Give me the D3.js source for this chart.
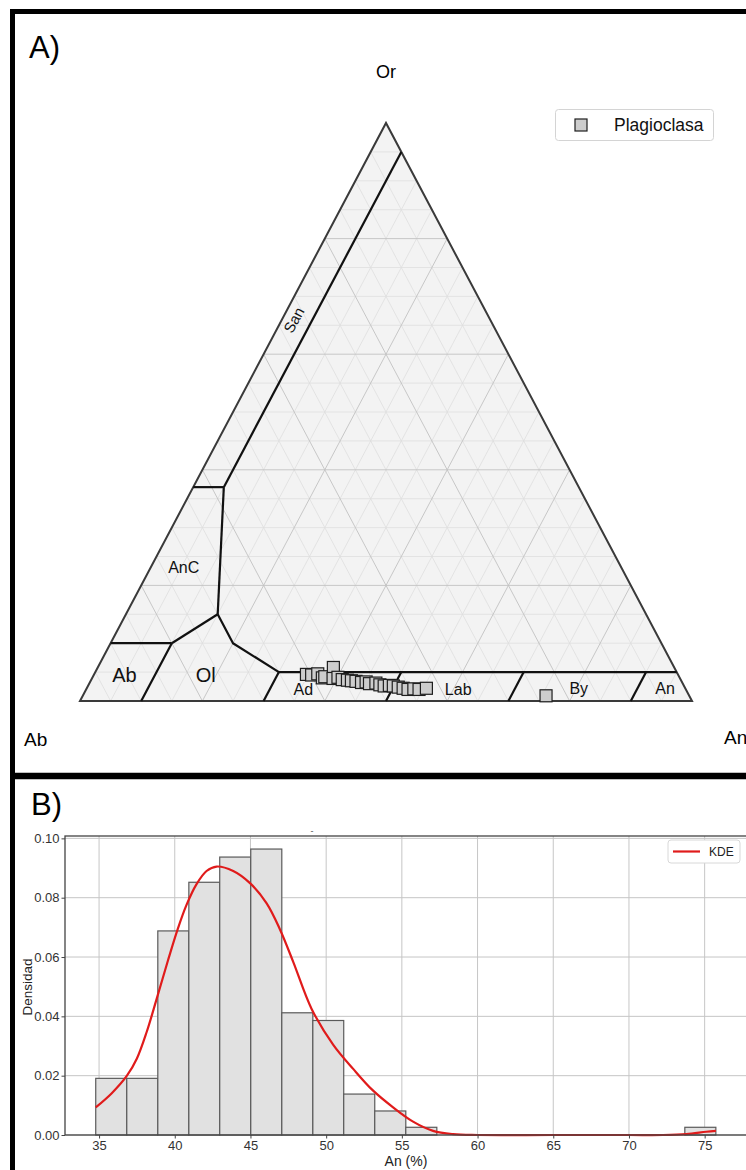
<!DOCTYPE html>
<html><head><meta charset="utf-8">
<script src="https://cdn.jsdelivr.net/npm/d3@7"></script>
<style>
html,body{margin:0;padding:0;background:#fff;overflow:hidden}
svg{display:block;font-family:"Liberation Sans",Arial,Helvetica,sans-serif}
</style></head><body>
<svg id="c" width="746" height="1170"></svg>
<script>
// ================= DATA =================
// Panel A: plagioclase analyses (An %, Or %)
const plagAn = [34.7, 35.6, 36.5, 37.6, 37.9, 38.5, 39.4, 40.1, 41.0, 41.9, 42.6, 43.4, 44.4, 45.1, 45.8, 46.8, 47.6, 48.4, 49.2, 49.9, 50.8, 51.7, 52.6, 53.5, 54.4, 55.5, 75.7];
const plagOr = [4.6, 4.5, 4.7, 4.0, 4.2, 5.8, 3.9, 4.1, 3.7, 3.6, 3.5, 3.4, 3.2, 3.3, 3.0, 3.1, 2.8, 2.6, 2.7, 2.6, 2.4, 2.2, 2.0, 2.1, 2.0, 2.2, 0.9];
// field boundaries as [An, Or] polylines
const boundaries = [
  [[5, 37], [5, 95]],
  [[0, 37], [5, 37]],
  [[5, 37], [15, 15]],
  [[0, 10], [10, 10]],
  [[10, 0], [10, 10]],
  [[10, 10], [15, 15]],
  [[15, 15], [20, 10], [30, 5]],
  [[30, 5], [95, 5]],
  [[30, 0], [30, 5]],
  [[50, 0], [50, 5]],
  [[70, 0], [70, 5]],
  [[90, 0], [90, 5]]
];
const fieldNames = ["San", "AnC", "Ab", "Ol", "Ad", "Lab", "By", "An"];
const fieldAn    = [2.0, 5.9, 5.6, 18.9, 36.0, 61.3, 80.9, 95.0];
const fieldOr    = [65.9, 22.1, 3.3, 3.3, 1.0, 1.0, 1.2, 1.2];
const gridLevels = [5,10,15,20,25,30,35,40,45,50,55,60,65,70,75,80,85,90,95];
const majorLevels = [20, 40, 60, 80];

// Panel B: histogram of An (%) and KDE
const binEdges = [34.78, 36.83, 38.88, 40.93, 42.97, 45.02, 47.07, 49.12, 51.16, 53.21, 55.26, 57.31, 59.35, 61.40, 63.45, 65.50, 67.54, 69.59, 71.64, 73.69, 75.74];
const binDensity = [0.0191, 0.0191, 0.0688, 0.0852, 0.0937, 0.0964, 0.0412, 0.0386, 0.0138, 0.0081, 0.0026, 0, 0, 0, 0, 0, 0, 0, 0, 0.0026];
const kdeAn   = [34.78, 35.84, 36.83, 37.5, 38.15, 38.8, 39.56, 40.2, 40.77, 41.43, 42.1, 42.76, 43.86, 44.97, 46.07, 46.95, 47.83, 49.04, 50.47, 51.8, 53.05, 54.4, 55.74, 57.06, 58.38, 60, 65, 70, 72.25, 73.79, 75.1, 75.74];
const kdeDens = [0.0093, 0.0141, 0.0199, 0.0258, 0.0348, 0.0458, 0.0590, 0.0695, 0.0775, 0.0845, 0.0890, 0.0905, 0.0890, 0.0849, 0.0781, 0.0693, 0.0583, 0.0425, 0.0304, 0.0222, 0.0152, 0.0094, 0.0045, 0.0014, 0.0003, 0, 0, 0, 0, 0.0003, 0.0011, 0.0014];
const xTicks = [35, 40, 45, 50, 55, 60, 65, 70, 75];
const yTicks = [0, 0.02, 0.04, 0.06, 0.08, 0.10];

// ================= DRAW =================
const svg = d3.select("#c");
const FONT = "'Liberation Sans', Arial, Helvetica, sans-serif";

// ---------- Panel A ----------
const gA = svg.append("g");
const tx = d3.scaleLinear().domain([0, 100]).range([80, 692]);
const ty = d3.scaleLinear().domain([0, 100]).range([701, 123]);
const P = (an, or) => [tx(an + or / 2), ty(or)];
const line = d3.line();

gA.append("path")
  .attr("d", line([P(0,0), P(100,0), P(0,100)]) + "Z")
  .attr("fill", "#f3f3f3").attr("stroke", "none");

function gridSeg(v) {
  return [
    [P(0, v), P(100 - v, v)],
    [P(v, 0), P(v, 100 - v)],
    [P(100 - v, 0), P(0, 100 - v)]
  ];
}
const minor = gridLevels.filter(v => !majorLevels.includes(v));
minor.forEach(v => gridSeg(v).forEach(s => {
  gA.append("path").attr("d", line(s)).attr("stroke", "#dedede").attr("stroke-width", 0.8).attr("fill", "none");
}));
majorLevels.forEach(v => gridSeg(v).forEach(s => {
  gA.append("path").attr("d", line(s)).attr("stroke", "#c2c2c2").attr("stroke-width", 0.9).attr("fill", "none");
}));

gA.append("path")
  .attr("d", line([P(0,0), P(100,0), P(0,100)]) + "Z")
  .attr("fill", "none").attr("stroke", "#3a3a3a").attr("stroke-width", 2).attr("stroke-linejoin", "miter");

boundaries.forEach(b => {
  gA.append("path").attr("d", line(b.map(d => P(d[0], d[1]))))
    .attr("fill", "none").attr("stroke", "#111").attr("stroke-width", 2.2).attr("stroke-linejoin", "round");
});

const fieldSize = {San: 15, AnC: 16, Ab: 20, Ol: 20, Ad: 16, Lab: 16, By: 16, An: 16};
fieldNames.forEach((n, i) => {
  const p = P(fieldAn[i], fieldOr[i]);
  const t = gA.append("text").attr("text-anchor", "middle")
    .attr("font-size", fieldSize[n]).attr("fill", "#111").text(n);
  if (n === "San") t.attr("transform", `translate(${p[0]},${p[1]}) rotate(-62)`).attr("dy", "0.35em");
  else t.attr("x", p[0]).attr("y", p[1]);
});

gA.append("g").selectAll("rect").data(plagAn.map((a, i) => [a, plagOr[i]]))
  .join("rect")
  .attr("x", d => P(d[0], d[1])[0] - 6).attr("y", d => P(d[0], d[1])[1] - 6)
  .attr("width", 12).attr("height", 12)
  .attr("fill", "#cdcdcd").attr("stroke", "#1e1e1e").attr("stroke-width", 1.2);

gA.append("text").attr("x", P(0,100)[0]).attr("y", 78).attr("text-anchor", "middle").attr("font-size", 18).text("Or");
gA.append("text").attr("x", 24).attr("y", 746).attr("font-size", 19).text("Ab");
gA.append("text").attr("x", 724).attr("y", 744).attr("font-size", 19).text("An");
gA.append("text").attr("x", 29).attr("y", 58).attr("font-size", 31).text("A)");

gA.append("rect").attr("x", 555.5).attr("y", 109.5).attr("width", 158).attr("height", 31).attr("rx", 3)
  .attr("fill", "#fff").attr("stroke", "#d4d4d4").attr("stroke-width", 1);
gA.append("rect").attr("x", 575).attr("y", 119).attr("width", 12).attr("height", 12)
  .attr("fill", "#cdcdcd").attr("stroke", "#1e1e1e").attr("stroke-width", 1.2);
gA.append("text").attr("x", 614).attr("y", 131).attr("font-size", 17.5).attr("fill", "#111").text("Plagioclasa");

// ---------- Panel B ----------
const gB = svg.append("g");
const x = d3.scaleLinear().domain([32.75, 77.85]).range([65, 747.8]);
const y = d3.scaleLinear().domain([0, 0.1008]).range([1135, 836]);

gB.append("g").selectAll("line").data(xTicks).join("line")
  .attr("x1", d => x(d)).attr("x2", d => x(d)).attr("y1", 836).attr("y2", 1135)
  .attr("stroke", "#c6c6c6").attr("stroke-width", 1);
gB.append("g").selectAll("line").data(yTicks).join("line")
  .attr("x1", 65).attr("x2", 747.8).attr("y1", d => y(d)).attr("y2", d => y(d))
  .attr("stroke", "#c6c6c6").attr("stroke-width", 1);

const bins = binDensity.map((v, i) => ({x0: binEdges[i], x1: binEdges[i + 1], v})).filter(b => b.v > 0);
gB.append("g").selectAll("rect").data(bins).join("rect")
  .attr("x", d => x(d.x0)).attr("width", d => x(d.x1) - x(d.x0))
  .attr("y", d => y(d.v)).attr("height", d => y(0) - y(d.v))
  .attr("fill", "#e1e1e1").attr("stroke", "#5a5a5a").attr("stroke-width", 1.2);

gB.append("path")
  .attr("d", d3.line().x(d => x(d[0])).y(d => y(d[1])).curve(d3.curveCatmullRom.alpha(0.5))(kdeAn.map((a, i) => [a, kdeDens[i]])))
  .attr("fill", "none").attr("stroke", "#e01b1b").attr("stroke-width", 2.2);

gB.append("rect").attr("x", 65).attr("y", 836).attr("width", 747.8 - 65).attr("height", 1135 - 836)
  .attr("fill", "none").attr("stroke", "#444").attr("stroke-width", 1.3);

const ax = gB.append("g").attr("transform", "translate(0,1135)")
  .call(d3.axisBottom(x).tickValues(xTicks).tickSize(3.5).tickPadding(2).tickFormat(d3.format("d")));
const ay = gB.append("g").attr("transform", "translate(65,0)")
  .call(d3.axisLeft(y).tickValues(yTicks).tickSize(3.5).tickPadding(2).tickFormat(d3.format(".2f")));
[ax, ay].forEach(a => {
  a.select(".domain").remove();
  a.selectAll("line").attr("stroke", "#444");
  a.selectAll("text").attr("font-size", 13).attr("font-family", FONT).attr("fill", "#333");
});

gB.append("text").attr("transform", "translate(32,987) rotate(-90)").attr("text-anchor", "middle")
  .attr("font-size", 13.5).attr("fill", "#222").text("Densidad");
gB.append("text").attr("x", 406).attr("y", 1166).attr("text-anchor", "middle")
  .attr("font-size", 14).attr("fill", "#222").text("An (%)");
gB.append("text").attr("x", 31).attr("y", 815).attr("font-size", 31).text("B)");
gB.append("text").attr("x", 312).attr("y", 834).attr("text-anchor", "middle").attr("font-size", 9).attr("fill", "#555").text("-");

gB.append("rect").attr("x", 668).attr("y", 840).attr("width", 72).attr("height", 23).attr("rx", 3)
  .attr("fill", "#fff").attr("stroke", "#d8d8d8");
gB.append("line").attr("x1", 673).attr("x2", 700).attr("y1", 851.5).attr("y2", 851.5)
  .attr("stroke", "#e01b1b").attr("stroke-width", 2.2);
gB.append("text").attr("x", 709).attr("y", 856).attr("font-size", 12).attr("fill", "#222").text("KDE");

// ---------- frame ----------
svg.append("path").attr("d", "M12.5,1175 V11.5 H760").attr("fill", "none").attr("stroke", "#000").attr("stroke-width", 5);
svg.append("line").attr("x1", 10).attr("x2", 760).attr("y1", 776).attr("y2", 776).attr("stroke", "#000").attr("stroke-width", 6.5);
</script>
</body></html>
